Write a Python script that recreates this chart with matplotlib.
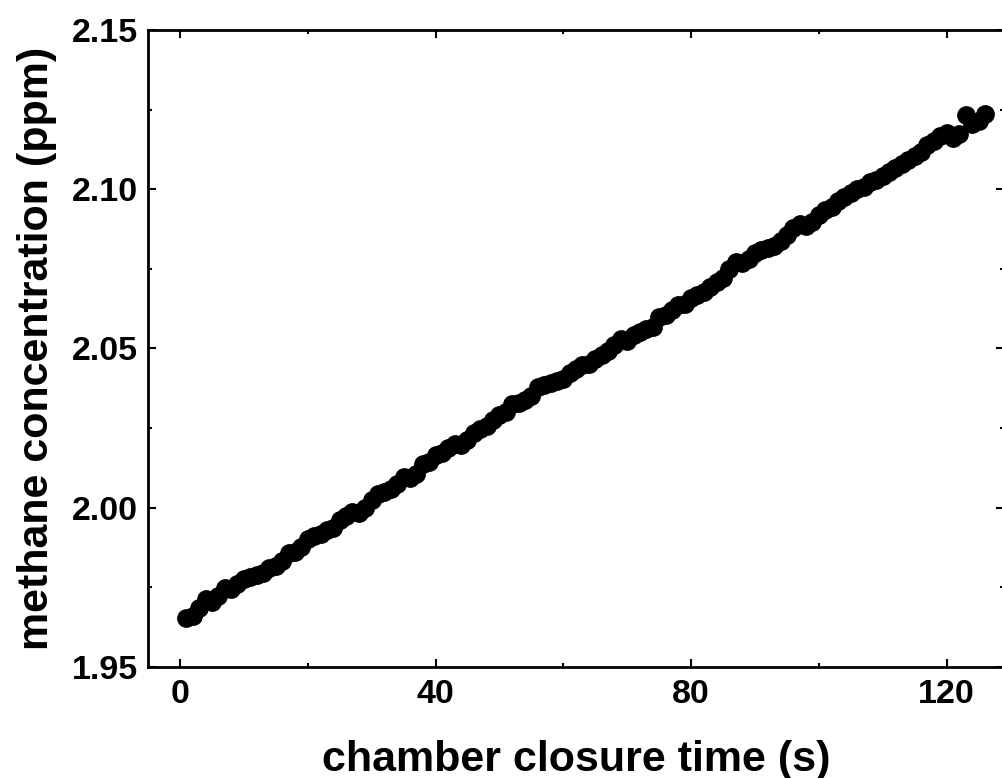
import numpy as np
import matplotlib.pyplot as plt
from matplotlib.ticker import MultipleLocator, FormatStrFormatter

# chamber closure time (s) and methane concentration (ppm)
time_s = np.arange(1, 127)
ch4_ppm = [
    1.9655, 1.9660, 1.9685, 1.9712, 1.9705, 1.9722, 1.9748, 1.9745, 1.9762, 1.9775,
    1.9782, 1.9790, 1.9796, 1.9810, 1.9818, 1.9832, 1.9858, 1.9862, 1.9878, 1.9902,
    1.9910, 1.9918, 1.9930, 1.9935, 1.9962, 1.9975, 1.9988, 1.9982, 1.9998, 2.0025,
    2.0042, 2.0050, 2.0058, 2.0075, 2.0098, 2.0092, 2.0105, 2.0138, 2.0142, 2.0165,
    2.0172, 2.0188, 2.0200, 2.0198, 2.0212, 2.0235, 2.0248, 2.0258, 2.0275, 2.0290,
    2.0302, 2.0325, 2.0330, 2.0338, 2.0352, 2.0378, 2.0385, 2.0392, 2.0398, 2.0405,
    2.0422, 2.0435, 2.0448, 2.0452, 2.0468, 2.0478, 2.0492, 2.0512, 2.0530, 2.0525,
    2.0542, 2.0552, 2.0560, 2.0568, 2.0598, 2.0605, 2.0622, 2.0635, 2.0640, 2.0658,
    2.0668, 2.0678, 2.0692, 2.0708, 2.0722, 2.0748, 2.0772, 2.0768, 2.0782, 2.0800,
    2.0808, 2.0815, 2.0822, 2.0838, 2.0855, 2.0878, 2.0892, 2.0885, 2.0898, 2.0920,
    2.0935, 2.0945, 2.0962, 2.0975, 2.0988, 2.1002, 2.1008, 2.1022, 2.1030, 2.1042,
    2.1055, 2.1068, 2.1080, 2.1092, 2.1105, 2.1118, 2.1138, 2.1152, 2.1168, 2.1175,
    2.1162, 2.1172, 2.1232, 2.1205, 2.1215, 2.1235,
]

plt.rcParams['font.family'] = ['Liberation Sans', 'DejaVu Sans']
plt.rcParams['font.weight'] = 'bold'

fig = plt.figure(figsize=(10.03, 7.78), dpi=100)
# the frame runs slightly past the right edge of the canvas
ax = fig.add_axes([0.1476, 0.1427, 0.8535, 0.8188])

ax.plot(time_s, ch4_ppm, 'o', color='black', ms=12.5, mec='black')

ax.set_xlim(-5, 129)
ax.set_ylim(1.95, 2.15)
ax.xaxis.set_major_locator(MultipleLocator(40))
ax.xaxis.set_minor_locator(MultipleLocator(20))
ax.yaxis.set_major_locator(MultipleLocator(0.05))
ax.yaxis.set_minor_locator(MultipleLocator(0.025))
ax.yaxis.set_major_formatter(FormatStrFormatter('%.2f'))

for s in ax.spines.values():
    s.set_linewidth(2)
ax.tick_params(which='both', direction='in', top=True, right=True, width=1.5)
ax.tick_params(which='major', length=6, labelsize=24.5)
ax.tick_params(axis='x', which='major', pad=9)
ax.tick_params(axis='y', which='major', pad=7)
ax.tick_params(which='minor', length=3)
for lbl in ax.get_xticklabels() + ax.get_yticklabels():
    lbl.set_fontweight('bold')

ax.set_xlabel('chamber closure time (s)', fontsize=31, fontweight='bold', labelpad=21)
ax.set_ylabel('methane concentration (ppm)', fontsize=31, fontweight='bold', labelpad=11)

fig.savefig('out.png', dpi=100)
